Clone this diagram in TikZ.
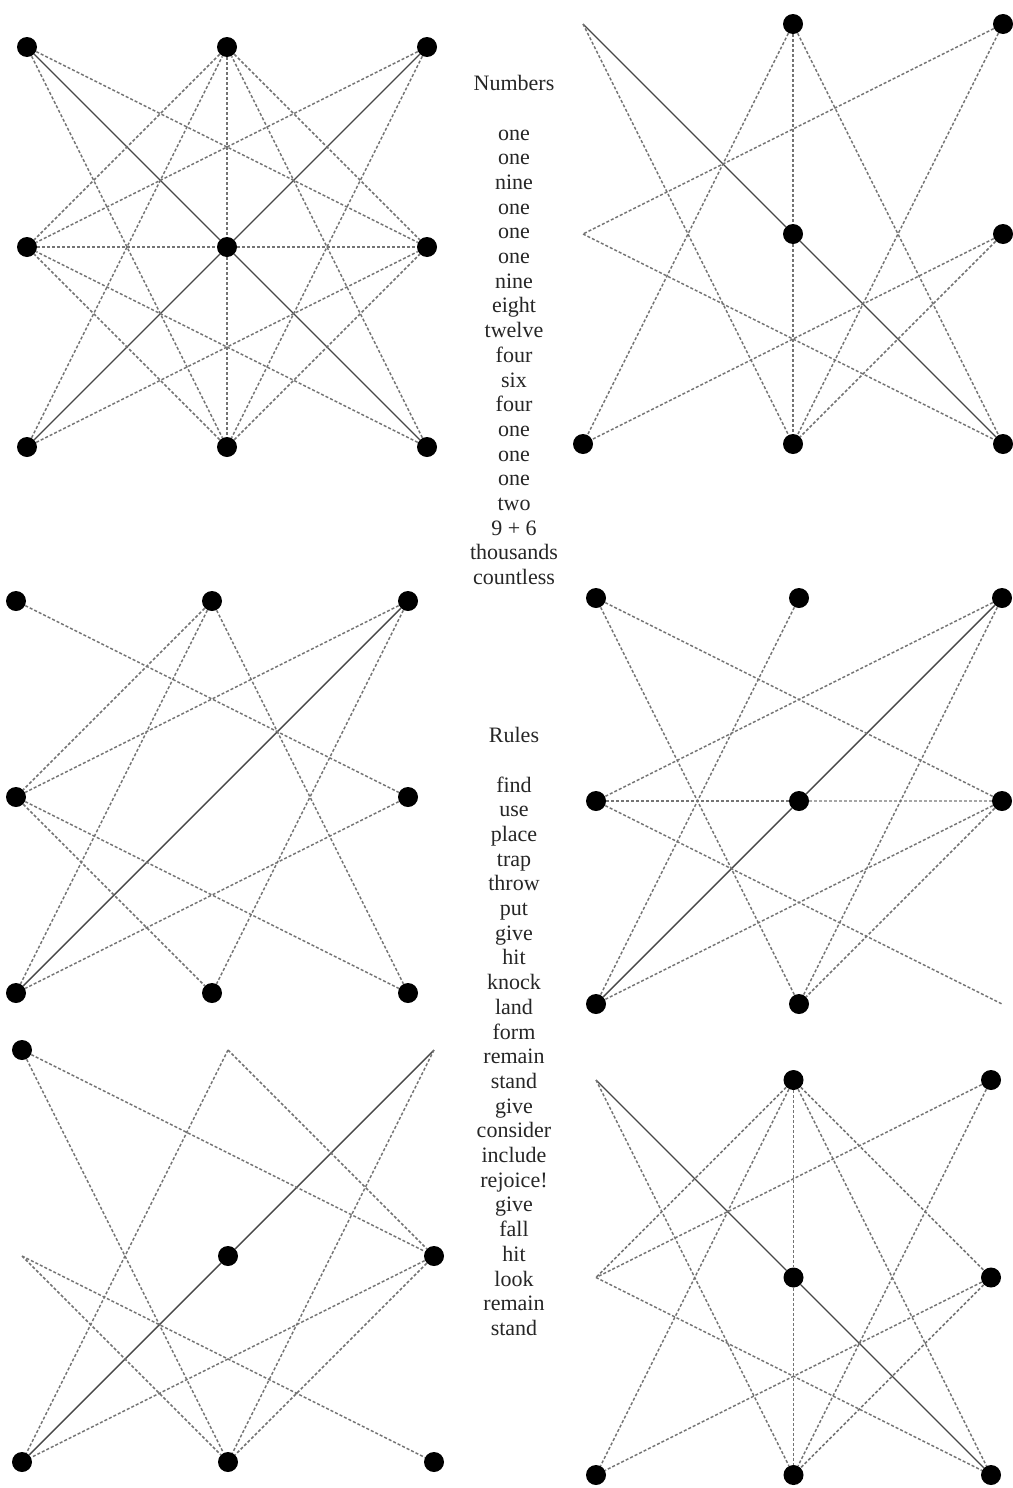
\documentclass[tikz,border=0pt]{standalone}
\usepackage{fontspec}
\setmainfont{Liberation Serif}

\begin{document}
\begin{tikzpicture}[
    x=0.5pt, y=-0.5pt,
    dot/.style={circle, fill=black, inner sep=0pt, minimum size=10pt},
    dline/.style={black!55, line width=0.75pt, dash pattern=on 1.5pt off 1pt},
    sline/.style={black!72, line width=0.7pt},
    words/.style={align=center, inner sep=0pt, anchor=north, text=black!85, font=\fontsize{11}{12.35}\selectfont}
]
\path[use as bounding box, fill=white] (0,0) rectangle (1012,1488);

\begin{scope}[shift={(27,47)}, x=100pt, y=-100pt]
\node[dot] (nw1) at (0,0) {};
\node[dot] (n1) at (1,0) {};
\node[dot] (ne1) at (2,0) {};
\node[dot] (w1) at (0,1) {};
\node[dot] (c1) at (1,1) {};
\node[dot] (e1) at (2,1) {};
\node[dot] (sw1) at (0,2) {};
\node[dot] (s1) at (1,2) {};
\node[dot] (se1) at (2,2) {};
\end{scope}
\draw[sline] (nw1) -- (c1) -- (se1);
\draw[sline] (ne1) -- (c1) -- (sw1);
\draw[dline] (n1) -- (c1) -- (s1);
\draw[dline] (w1) -- (c1) -- (e1);
\draw[dline] (nw1) -- (e1) (nw1) -- (s1) (ne1) -- (w1) (ne1) -- (s1);
\draw[dline] (sw1) -- (n1) (sw1) -- (e1) (se1) -- (n1) (se1) -- (w1);
\draw[dline] (n1) -- (w1) (n1) -- (e1) (s1) -- (w1) (s1) -- (e1);

\begin{scope}[shift={(583,24)}, x=105pt, y=-105pt]
\coordinate (nw2) at (0,0);
\node[dot] (n2) at (1,0) {};
\node[dot] (ne2) at (2,0) {};
\coordinate (w2) at (0,1);
\node[dot] (c2) at (1,1) {};
\node[dot] (e2) at (2,1) {};
\node[dot] (sw2) at (0,2) {};
\node[dot] (s2) at (1,2) {};
\node[dot] (se2) at (2,2) {};
\end{scope}
\draw[sline] (nw2) -- (c2) -- (se2);
\draw[dline] (n2) -- (c2) -- (s2);
\draw[dline] (nw2) -- (s2) (n2) -- (sw2) (n2) -- (se2) (ne2) -- (w2);
\draw[dline] (ne2) -- (s2) (w2) -- (se2) (e2) -- (sw2) (e2) -- (s2);

\begin{scope}[shift={(16,601)}, x=98pt, y=-98pt]
\node[dot] (nw3) at (0,0) {};
\node[dot] (n3) at (1,0) {};
\node[dot] (ne3) at (2,0) {};
\node[dot] (w3) at (0,1) {};
\node[dot] (e3) at (2,1) {};
\node[dot] (sw3) at (0,2) {};
\node[dot] (s3) at (1,2) {};
\node[dot] (se3) at (2,2) {};
\end{scope}
\draw[sline] (sw3) -- (ne3);
\draw[dline] (nw3) -- (e3) (n3) -- (w3) (n3) -- (sw3) (n3) -- (se3) (ne3) -- (w3);
\draw[dline] (ne3) -- (s3) (w3) -- (s3) (w3) -- (se3) (e3) -- (sw3);

\begin{scope}[shift={(596,598)}, x=101.5pt, y=-101.5pt]
\node[dot] (nw4) at (0,0) {};
\node[dot] (n4) at (1,0) {};
\node[dot] (ne4) at (2,0) {};
\node[dot] (w4) at (0,1) {};
\node[dot] (c4) at (1,1) {};
\node[dot] (e4) at (2,1) {};
\node[dot] (sw4) at (0,2) {};
\node[dot] (s4) at (1,2) {};
\coordinate (se4) at (2,2);
\end{scope}
\draw[sline] (sw4) -- (c4) -- (ne4);
\draw[dline] (w4) -- (c4);
\draw[dline, black!35] (c4) -- (e4);
\draw[dline] (nw4) -- (e4) (nw4) -- (s4) (n4) -- (sw4) (ne4) -- (w4);
\draw[dline] (ne4) -- (s4) (w4) -- (se4) (e4) -- (sw4) (e4) -- (s4);

\begin{scope}[shift={(22,1050)}, x=103pt, y=-103pt]
\node[dot] (nw5) at (0,0) {};
\coordinate (n5) at (1,0);
\coordinate (ne5) at (2,0);
\coordinate (w5) at (0,1);
\node[dot] (c5) at (1,1) {};
\node[dot] (e5) at (2,1) {};
\node[dot] (sw5) at (0,2) {};
\node[dot] (s5) at (1,2) {};
\node[dot] (se5) at (2,2) {};
\end{scope}
\draw[sline] (sw5) -- (c5) -- (ne5);
\draw[dline] (nw5) -- (e5) (nw5) -- (s5) (n5) -- (sw5) (n5) -- (e5) (ne5) -- (s5);
\draw[dline] (w5) -- (s5) (w5) -- (se5) (e5) -- (sw5) (e5) -- (s5);

\begin{scope}[shift={(596,1080)}, x=98.75pt, y=-98.75pt]
\coordinate (nw6) at (0,0);
\node[dot] (n6) at (1,0) {};
\node[dot] (ne6) at (2,0) {};
\coordinate (w6) at (0,1);
\node[dot] (c6) at (1,1) {};
\node[dot] (e6) at (2,1) {};
\node[dot] (sw6) at (0,2) {};
\node[dot] (s6) at (1,2) {};
\node[dot] (se6) at (2,2) {};
\end{scope}
\draw[sline] (nw6) -- (c6) -- (se6);
\draw[dline] (n6) -- (c6) -- (s6);
\draw[dline] (nw6) -- (s6) (n6) -- (w6) (n6) -- (sw6) (n6) -- (e6) (n6) -- (se6);
\draw[dline] (ne6) -- (w6) (ne6) -- (s6) (w6) -- (se6) (e6) -- (sw6) (e6) -- (s6);

\node[words] (numbers) at (514,75) {Numbers\\[12.35pt]one\\one\\nine\\one\\one\\one\\nine\\eight\\twelve\\four\\six\\four\\one\\one\\one\\two\\9 + 6\\thousands\\countless};
\node[words] (rules) at (514,727) {Rules\\[12.35pt]find\\use\\place\\trap\\throw\\put\\give\\hit\\knock\\land\\form\\remain\\stand\\give\\consider\\include\\rejoice!\\give\\fall\\hit\\look\\remain\\stand};
\end{tikzpicture}
\end{document}
